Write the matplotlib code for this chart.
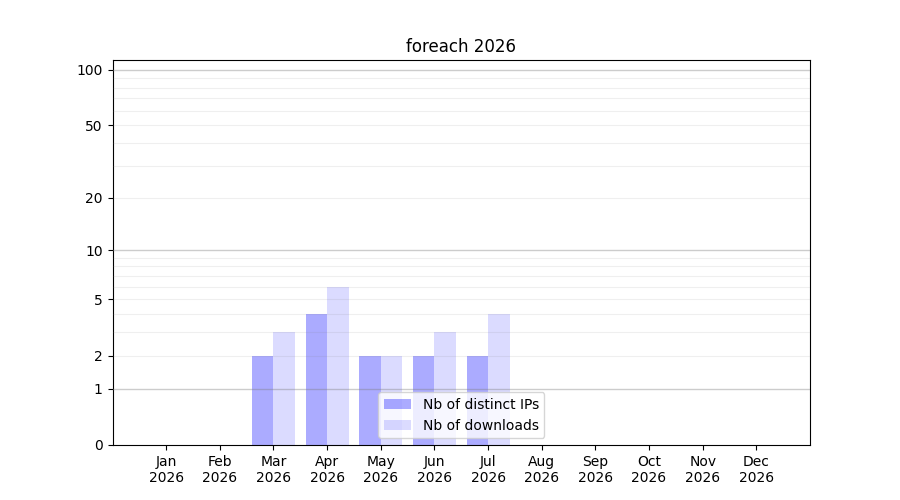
import numpy as np
import matplotlib
matplotlib.use("Agg")
import matplotlib.pyplot as plt

months = ["Jan", "Feb", "Mar", "Apr", "May", "Jun", "Jul", "Aug", "Sep", "Oct", "Nov", "Dec"]
year = "2026"
distinct_ips = [0, 0, 2, 4, 2, 2, 2, 0, 0, 0, 0, 0]
downloads = [0, 0, 3, 6, 2, 3, 4, 0, 0, 0, 0, 0]
yticks = [0, 1, 2, 5, 10, 20, 50, 100]
major_grid = [1, 10, 100]
minor_grid = [2, 3, 4, 5, 6, 7, 8, 9, 20, 30, 40, 50, 60, 70, 80, 90]

fig, ax = plt.subplots(figsize=(9, 5), dpi=100)

def fwd(y):
    return np.log10(1 + np.clip(y, 0, None))

def inv(y):
    return 10 ** y - 1

ax.set_yscale("function", functions=(fwd, inv))

x = np.arange(len(months))
w = 0.4
ax.bar(x - w / 2, distinct_ips, width=w, color="blue", alpha=0.33, label="Nb of distinct IPs")
ax.bar(x + w / 2, downloads, width=w, color="blue", alpha=0.14, label="Nb of downloads")

for g in major_grid:
    ax.axhline(g, color="gray", alpha=0.4, linewidth=1, zorder=3)
for g in minor_grid:
    ax.axhline(g, color="gray", alpha=0.12, linewidth=0.8, zorder=3)

ax.set_ylim(0, 113)
ax.set_xlim(-1, 12)
ax.set_yticks(yticks)
ax.set_yticklabels([str(t) for t in yticks])
ax.minorticks_off()
ax.set_xticks(x)
ax.set_xticklabels([f"{m}\n{year}" for m in months])
ax.set_title("foreach 2026")
ax.legend(loc="lower center")

fig.savefig("out.png")
